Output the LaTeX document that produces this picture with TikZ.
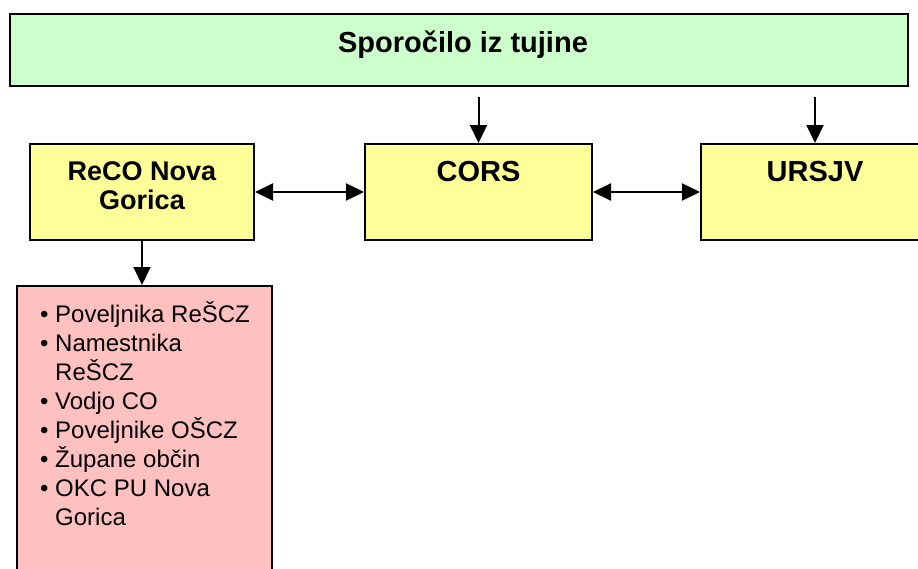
\documentclass[tikz,border=0pt]{standalone}
\usepackage{fontspec}
\setmainfont{Liberation Sans}
\usetikzlibrary{positioning,arrows.meta}

\definecolor{zelena}{HTML}{CCFFCC}
\definecolor{rumena}{HTML}{FFFF99}
\definecolor{roza}{HTML}{FFC0C0}
\newcommand{\alinea}[1]{\makebox[15pt][l]{\textbullet}#1}

\begin{document}
\begin{tikzpicture}[x=1pt,y=-1pt,
    okvir/.style={draw=black,line width=2pt,inner sep=0pt},
    naslov/.style={font=\bfseries\fontsize{29}{29}\selectfont,align=center,inner sep=0pt},
    pil/.style={line width=2pt,-{Triangle[length=18pt,width=17pt]}},
    dvopil/.style={line width=2pt,{Triangle[length=18pt,width=17pt]}-{Triangle[length=18pt,width=17pt]}}]
            \useasboundingbox (0,0) rectangle (918,568);
            \clip (0,0) rectangle (918,568);

            % Top message box
            \node[okvir,fill=zelena,minimum width=898pt,minimum height=72pt] (sporocilo) at (459,50) {};
            \node[naslov] at ([xshift=4pt,yshift=-32pt]sporocilo.north) {Sporočilo iz tujine};

            % Centres
            \node[okvir,fill=rumena,minimum width=224pt,minimum height=96pt] (reco) at (142,192) {};
            \node[naslov,font=\bfseries\fontsize{27}{29}\selectfont] at ([yshift=-43pt]reco.north) {ReCO Nova\\Gorica};
            \node[okvir,fill=rumena,minimum width=227pt,minimum height=96pt] (cors) at (478.5,192) {};
            \node[naslov] at ([yshift=-29pt]cors.north) {CORS};
            \node[okvir,fill=rumena,minimum width=228pt,minimum height=96pt] (ursjv) at (815,192) {};
            \node[naslov] at ([yshift=-29pt]ursjv.north) {URSJV};

            % Who is informed
            \node[okvir,fill=roza,minimum width=255pt,minimum height=320pt] (obvesti) at (144.5,446) {};
            \node[anchor=north west,align=left,inner sep=0pt,
                  font=\fontsize{24}{29}\selectfont] (seznam) at (40,301) {%
                \alinea{Poveljnika ReŠCZ}\\
                \alinea{Namestnika}\\
                \hspace*{15pt}ReŠCZ\\
                \alinea{Vodjo CO}\\
                \alinea{Poveljnike OŠCZ}\\
                \alinea{Župane občin}\\
                \alinea{OKC PU Nova}\\
                \hspace*{15pt}Gorica};

            % Arrows
            \coordinate (zacetek1) at ([yshift=-10pt]sporocilo.south -| cors.north);
            \coordinate (zacetek2) at ([yshift=-10pt]sporocilo.south -| ursjv.north);
            \draw[pil] (zacetek1) -- (cors.north);
            \draw[pil] (zacetek2) -- (ursjv.north);
            \draw[dvopil] (reco.east) -- (cors.west);
            \draw[dvopil] (cors.east) -- (ursjv.west);
            \draw[pil] (reco.south) -- (reco.south |- obvesti.north);
\end{tikzpicture}
\end{document}
